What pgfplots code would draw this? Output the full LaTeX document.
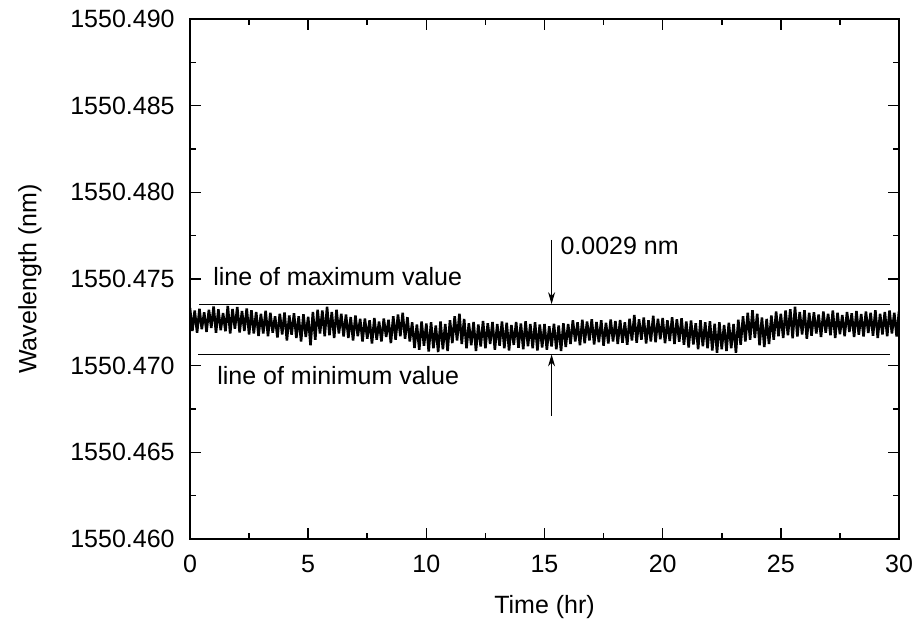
\documentclass[border=0pt]{standalone}
\usepackage{fontspec}
\setmainfont{Liberation Sans}
\usepackage{pgfplots}
\pgfplotsset{compat=1.18}
\usetikzlibrary{calc,arrows.meta}
\newcommand{\lf}{\fontsize{12.5}{15}\selectfont}
\begin{document}
\begin{tikzpicture}
% y values are wavelength minus 1550 nm (in nm), tick labels show absolute wavelength
\begin{axis}[
  scale only axis,
  width=354.5pt, height=260pt,
  xmin=0, xmax=30, ymin=0.460, ymax=0.490,
  xtick={0,5,10,15,20,25,30},
  ytick={0.460,0.465,0.470,0.475,0.480,0.485,0.490},
  yticklabels={1550.460,1550.465,1550.470,1550.475,1550.480,1550.485,1550.490},
  minor x tick num=1, minor y tick num=1,
  tick align=inside,
  major tick length=5.5pt, minor tick length=3pt,
  every tick/.style={black, line width=0.8pt},
  axis line style={line width=1pt},
  /pgf/number format/assume math mode=true,
  tick label style={font=\lf},
  yticklabel style={inner sep=0pt, xshift=-7.5pt},
  xticklabel style={inner sep=0pt, yshift=-8pt},
  xlabel={Time (hr)}, ylabel={Wavelength (nm)},
  label style={font=\lf, inner sep=0pt},
  xlabel style={at={(axis description cs:0.5,-0.1308)}, anchor=center},
  ylabel style={at={(axis description cs:-0.2257,0.5)}, anchor=center},
]
\coordinate (bl) at (rel axis cs:0,0);
\coordinate (tr) at (rel axis cs:1,1);
\addplot[black, line width=1.25pt, line join=bevel, mark=none] coordinates {
(0.0,0.47333)(0.1,0.47200)(0.2,0.47318)(0.3,0.47190)(0.4,0.47328)(0.5,0.47210)(0.6,0.47308)(0.7,0.47195)(0.8,0.47323)(0.9,0.47218)
(1.0,0.47342)(1.1,0.47190)(1.2,0.47325)(1.3,0.47205)(1.4,0.47303)(1.5,0.47198)(1.6,0.47345)(1.7,0.47185)(1.8,0.47327)(1.9,0.47213)
(2.0,0.47338)(2.1,0.47192)(2.2,0.47315)(2.3,0.47200)(2.4,0.47330)(2.5,0.47180)(2.6,0.47320)(2.7,0.47185)(2.8,0.47310)(2.9,0.47171)
(3.0,0.47300)(3.1,0.47185)(3.2,0.47317)(3.3,0.47170)(3.4,0.47305)(3.5,0.47190)(3.6,0.47285)(3.7,0.47162)(3.8,0.47300)(3.9,0.47180)
(4.0,0.47307)(4.1,0.47145)(4.2,0.47290)(4.3,0.47178)(4.4,0.47302)(4.5,0.47160)(4.6,0.47285)(4.7,0.47140)(4.8,0.47297)(4.9,0.47165)
(5.0,0.47282)(5.1,0.47118)(5.2,0.47310)(5.3,0.47150)(5.4,0.47322)(5.5,0.47185)(5.6,0.47318)(5.7,0.47170)(5.8,0.47340)(5.9,0.47175)
(6.0,0.47310)(6.1,0.47160)(6.2,0.47322)(6.3,0.47185)(6.4,0.47300)(6.5,0.47168)(6.6,0.47295)(6.7,0.47160)(6.8,0.47280)(6.9,0.47145)
(7.0,0.47290)(7.1,0.47170)(7.2,0.47270)(7.3,0.47140)(7.4,0.47272)(7.5,0.47155)(7.6,0.47262)(7.7,0.47128)(7.8,0.47275)(7.9,0.47150)
(8.0,0.47255)(8.1,0.47140)(8.2,0.47272)(8.3,0.47165)(8.4,0.47265)(8.5,0.47130)(8.6,0.47285)(8.7,0.47150)(8.8,0.47295)(8.9,0.47170)
(9.0,0.47305)(9.1,0.47155)(9.2,0.47280)(9.3,0.47140)(9.4,0.47250)(9.5,0.47102)(9.6,0.47238)(9.7,0.47092)(9.8,0.47255)(9.9,0.47115)
(10.0,0.47243)(10.1,0.47082)(10.2,0.47250)(10.3,0.47100)(10.4,0.47232)(10.5,0.47078)(10.6,0.47255)(10.7,0.47095)(10.8,0.47240)(10.9,0.47085)
(11.0,0.47262)(11.1,0.47130)(11.2,0.47285)(11.3,0.47145)(11.4,0.47300)(11.5,0.47125)(11.6,0.47270)(11.7,0.47100)(11.8,0.47245)(11.9,0.47118)
(12.0,0.47252)(12.1,0.47085)(12.2,0.47237)(12.3,0.47110)(12.4,0.47258)(12.5,0.47100)(12.6,0.47245)(12.7,0.47125)(12.8,0.47252)(12.9,0.47092)
(13.0,0.47240)(13.1,0.47115)(13.2,0.47255)(13.3,0.47100)(13.4,0.47248)(13.5,0.47088)(13.6,0.47235)(13.7,0.47120)(13.8,0.47252)(13.9,0.47103)
(14.0,0.47244)(14.1,0.47095)(14.2,0.47256)(14.3,0.47112)(14.4,0.47240)(14.5,0.47100)(14.6,0.47250)(14.7,0.47088)(14.8,0.47238)(14.9,0.47105)
(15.0,0.47240)(15.1,0.47092)(15.2,0.47228)(15.3,0.47110)(15.4,0.47242)(15.5,0.47095)(15.6,0.47232)(15.7,0.47085)(15.8,0.47245)(15.9,0.47108)
(16.0,0.47240)(16.1,0.47125)(16.2,0.47262)(16.3,0.47140)(16.4,0.47250)(16.5,0.47118)(16.6,0.47265)(16.7,0.47130)(16.8,0.47255)(16.9,0.47145)
(17.0,0.47268)(17.1,0.47122)(17.2,0.47252)(17.3,0.47135)(17.4,0.47262)(17.5,0.47115)(17.6,0.47248)(17.7,0.47128)(17.8,0.47266)(17.9,0.47140)
(18.0,0.47258)(18.1,0.47125)(18.2,0.47264)(18.3,0.47132)(18.4,0.47250)(18.5,0.47120)(18.6,0.47270)(18.7,0.47145)(18.8,0.47292)(18.9,0.47132)
(19.0,0.47268)(19.1,0.47150)(19.2,0.47278)(19.3,0.47128)(19.4,0.47262)(19.5,0.47140)(19.6,0.47288)(19.7,0.47135)(19.8,0.47270)(19.9,0.47152)
(20.0,0.47275)(20.1,0.47130)(20.2,0.47262)(20.3,0.47142)(20.4,0.47280)(20.5,0.47125)(20.6,0.47268)(20.7,0.47138)(20.8,0.47274)(20.9,0.47120)
(21.0,0.47255)(21.1,0.47105)(21.2,0.47260)(21.3,0.47122)(21.4,0.47245)(21.5,0.47095)(21.6,0.47262)(21.7,0.47112)(21.8,0.47250)(21.9,0.47100)
(22.0,0.47256)(22.1,0.47088)(22.2,0.47242)(22.3,0.47075)(22.4,0.47250)(22.5,0.47095)(22.6,0.47235)(22.7,0.47085)(22.8,0.47248)(22.9,0.47100)
(23.0,0.47240)(23.1,0.47074)(23.2,0.47265)(23.3,0.47120)(23.4,0.47285)(23.5,0.47140)(23.6,0.47305)(23.7,0.47150)(23.8,0.47320)(23.9,0.47160)
(24.0,0.47300)(24.1,0.47118)(24.2,0.47278)(24.3,0.47108)(24.4,0.47270)(24.5,0.47125)(24.6,0.47290)(24.7,0.47150)(24.8,0.47312)(24.9,0.47170)
(25.0,0.47300)(25.1,0.47160)(25.2,0.47318)(25.3,0.47175)(25.4,0.47325)(25.5,0.47158)(25.6,0.47340)(25.7,0.47168)(25.8,0.47310)(25.9,0.47180)
(26.0,0.47320)(26.1,0.47155)(26.2,0.47305)(26.3,0.47172)(26.4,0.47308)(26.5,0.47185)(26.6,0.47295)(26.7,0.47165)(26.8,0.47312)(26.9,0.47190)
(27.0,0.47300)(27.1,0.47175)(27.2,0.47318)(27.3,0.47160)(27.4,0.47305)(27.5,0.47182)(27.6,0.47292)(27.7,0.47170)(27.8,0.47310)(27.9,0.47195)
(28.0,0.47302)(28.1,0.47165)(28.2,0.47315)(28.3,0.47178)(28.4,0.47298)(28.5,0.47168)(28.6,0.47312)(28.7,0.47188)(28.8,0.47305)(28.9,0.47172)
(29.0,0.47320)(29.1,0.47160)(29.2,0.47300)(29.3,0.47180)(29.4,0.47310)(29.5,0.47170)(29.6,0.47318)(29.7,0.47185)(29.8,0.47305)(29.9,0.47168)
(30.0,0.47312)
};
% line of maximum / minimum value
\addplot[black, line width=0.6pt, mark=none] coordinates {(0.4,0.47355) (29.6,0.47355)};
\addplot[black, line width=0.6pt, mark=none] coordinates {(0.35,0.47065) (29.6,0.47065)};
% arrows
\draw[line width=0.5pt, -{Stealth[length=6pt,width=3.5pt]}] (axis cs:15.30,0.47725) -- (axis cs:15.30,0.47355);
\draw[line width=0.5pt, -{Stealth[length=6pt,width=3.5pt]}] (axis cs:15.30,0.46710) -- (axis cs:15.30,0.47065);
\node[anchor=west, inner sep=0pt, font=\lf] at (axis cs:15.66,0.47690) {0.0029 nm};
\node[anchor=west, inner sep=0pt, font=\lf] at (axis cs:0.97,0.47514) {line of maximum value};
\node[anchor=west, inner sep=0pt, font=\lf] at (axis cs:1.14,0.46940) {line of minimum value};
\end{axis}
\pgfresetboundingbox
\path[use as bounding box] ($(bl)+(-95pt,-45.5pt)$) rectangle ($(tr)+(10pt,9.5pt)$);
\end{tikzpicture}
\end{document}
